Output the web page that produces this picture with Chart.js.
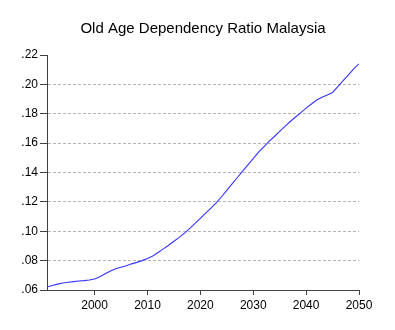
<!DOCTYPE html>
<html>
<head>
<meta charset="utf-8">
<title>Old Age Dependency Ratio Malaysia</title>
<script src="https://cdn.jsdelivr.net/npm/chart.js@4/dist/chart.umd.min.js"></script>
<style>
  html, body { margin: 0; background: #fff; }
  #wrap { width: 395px; height: 330px; position: relative; }
</style>
</head>
<body>
<div id="wrap"><canvas id="ratioChart"></canvas></div>
<script>
"use strict";
// Old-age dependency ratio, Malaysia, annual 1991-2050 (projection).
const years = [
  1991, 1992, 1993, 1994, 1995, 1996, 1997, 1998, 1999, 2000,
  2001, 2002, 2003, 2004, 2005, 2006, 2007, 2008, 2009, 2010,
  2011, 2012, 2013, 2014, 2015, 2016, 2017, 2018, 2019, 2020,
  2021, 2022, 2023, 2024, 2025, 2026, 2027, 2028, 2029, 2030,
  2031, 2032, 2033, 2034, 2035, 2036, 2037, 2038, 2039, 2040,
  2041, 2042, 2043, 2044, 2045, 2046, 2047, 2048, 2049, 2050
];
const ratio = [
  0.0620, 0.0630, 0.0640, 0.0648, 0.0653, 0.0657, 0.0661, 0.0664, 0.0668, 0.0675,
  0.0690, 0.0710, 0.0730, 0.0745, 0.0755, 0.0765, 0.0778, 0.0788, 0.0800, 0.0815,
  0.0832, 0.0855, 0.0880, 0.0905, 0.0932, 0.0958, 0.0987, 0.1020, 0.1053, 0.1088,
  0.1123, 0.1158, 0.1193, 0.1235, 0.1278, 0.1322, 0.1366, 0.1410, 0.1452, 0.1495,
  0.1538, 0.1575, 0.1612, 0.1645, 0.1680, 0.1714, 0.1747, 0.1778, 0.1808, 0.1838,
  0.1866, 0.1893, 0.1912, 0.1928, 0.1945, 0.1985, 0.2025, 0.2065, 0.2105, 0.2140
];
const xTicks = [2000, 2010, 2020, 2030, 2040, 2050];
const yTicks = [0.06, 0.08, 0.10, 0.12, 0.14, 0.16, 0.18, 0.20, 0.22];
const titleText = "Old Age Dependency Ratio Malaysia";

const FONT = "Arial, 'Liberation Sans', sans-serif";
const AXIS = "#404040";

// ".22" style labels, no leading zero
const fmt = (v) => v.toFixed(2).replace(/^0/, "");

// title centred over the plot area rather than the whole canvas
const plotTitle = {
  id: "plotTitle",
  afterDraw(chart) {
    const { ctx, chartArea } = chart;
    ctx.save();
    ctx.fillStyle = "#000";
    ctx.font = "15px " + FONT;
    ctx.textAlign = "center";
    ctx.textBaseline = "middle";
    ctx.fillText(titleText, (chartArea.left + chartArea.right) / 2, 29);
    ctx.restore();
  }
};

new Chart(document.getElementById("ratioChart"), {
  type: "line",
  data: {
    datasets: [{
      data: years.map((x, i) => ({ x, y: ratio[i] })),
      borderColor: "#3535ff",
      borderWidth: 1.1,
      pointRadius: 0,
      tension: 0,
      fill: false
    }]
  },
  plugins: [plotTitle],
  options: {
    responsive: true,
    maintainAspectRatio: false,
    animation: false,
    layout: { padding: { left: 0, right: 36, top: 55, bottom: 0 } },
    plugins: {
      legend: { display: false },
      tooltip: { enabled: false },
      title: { display: false }
    },
    scales: {
      x: {
        type: "linear",
        min: 1991,
        max: 2050,
        afterBuildTicks: (s) => { s.ticks = xTicks.map((v) => ({ value: v })); },
        afterFit: (s) => { s.height = 40; },
        grid: { drawOnChartArea: false, drawTicks: true, tickLength: 5, tickColor: AXIS },
        border: { display: true, color: AXIS, width: 1 },
        ticks: {
          color: "#000",
          padding: 3,
          maxRotation: 0,
          font: { family: FONT, size: 12 },
          callback: (v) => String(v)
        }
      },
      y: {
        min: 0.06,
        max: 0.22,
        afterBuildTicks: (s) => { s.ticks = yTicks.map((v) => ({ value: v })); },
        afterFit: (s) => { s.width = 47; },
        grid: {
          drawTicks: true,
          tickLength: 7,
          tickColor: AXIS,
          lineWidth: 1,
          // dashed guides only between the end ticks
          color: (ctx) => (ctx.index === 0 || ctx.index === yTicks.length - 1) ? "rgba(0,0,0,0)" : "#b4b4b4"
        },
        border: { display: true, color: AXIS, width: 1, dash: [3, 2] },
        ticks: {
          color: "#000",
          padding: 2,
          font: { family: FONT, size: 12 },
          callback: (v) => fmt(v)
        }
      }
    }
  }
});
</script>
</body>
</html>
